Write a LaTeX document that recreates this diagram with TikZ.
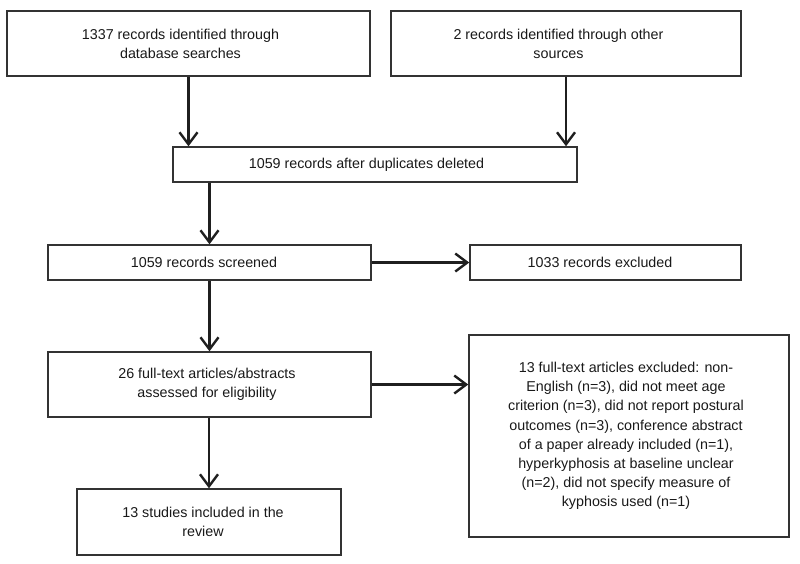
\documentclass[tikz,border=0pt]{standalone}
\usepackage{fontspec}
\setmainfont{Liberation Sans}
\usetikzlibrary{arrows.meta}
\newcommand{\bt}[4]{\parbox[c][#2][c]{#1}{\centering\advance\rightskip#3\relax #4\par}}
\begin{document}
\begin{tikzpicture}[x=1pt,y=-1pt,
  box/.style={draw=black!80, line width=1.5pt, inner sep=0pt, text=black!90,
    font=\fontsize{14.3pt}{19.2pt}\selectfont},
  arr/.style={draw=black!88, line width=2.4pt,
    -{Straight Barb[length=12pt,width=18pt,line width=2.4pt]}}]
\useasboundingbox (0,0) rectangle (800,563);
\node[box] (b1) at (188.5,43.5) {\bt{363pt}{65pt}{16pt}{1337 records identified through\\database searches}};
\node[box] (b2) at (566,43.5) {\bt{350pt}{65pt}{15pt}{2 records identified through other\\sources}};
\node[box] (b3) at (375,164.5) {\bt{404pt}{35pt}{17pt}{1059 records after duplicates deleted}};
\node[box] (b4) at (209.5,262.5) {\bt{323pt}{35pt}{11pt}{1059 records screened}};
\node[box] (b5) at (605.5,262.5) {\bt{271pt}{35pt}{11pt}{1033 records excluded}};
\node[box] (b6) at (209.5,384.5) {\bt{323pt}{65pt}{5pt}{26 full-text articles/abstracts\\assessed for eligibility}};
\node[box] (b7) at (629,436) {\bt{320pt}{202pt}{6pt}{13 full-text articles excluded: non-\\English (n=3), did not meet age\\criterion (n=3), did not report postural\\outcomes (n=3), conference abstract\\of a paper already included (n=1),\\hyperkyphosis at baseline unclear\\(n=2), did not specify measure of\\kyphosis used (n=1)}};
\node[box] (b8) at (209,522) {\bt{264pt}{66pt}{12pt}{13 studies included in the\\review}};
\draw[arr] (b1.south) -- (b1.south |- b3.north);
\draw[arr] (b2.south) -- (b2.south |- b3.north);
\draw[arr] (b4.north |- b3.south) -- (b4.north);
\draw[arr] (b4.east) -- (b5.west);
\draw[arr] (b4.south) -- (b6.north);
\draw[arr] (b6.east) -- (b6.east -| b7.west);
\draw[arr] (b8.north |- b6.south) -- (b8.north);
\end{tikzpicture}
\end{document}
